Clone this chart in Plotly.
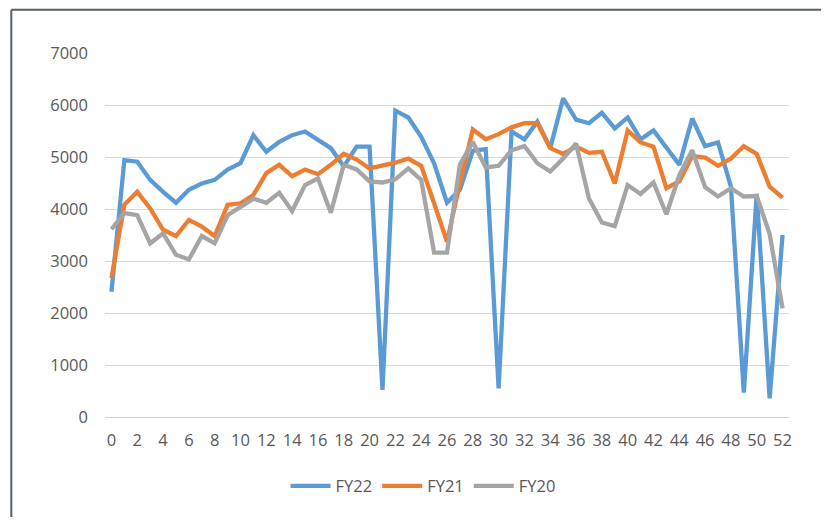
import plotly.graph_objects as go

# Week index 0..52
weeks = list(range(53))

fy22 = [2410, 4940, 4910, 4560, 4330, 4120, 4370, 4490, 4560, 4760, 4880, 5420, 5100,
        5290, 5420, 5490, 5330, 5170, 4820, 5200, 5200, 520, 5890, 5760, 5390, 4880,
        4120, 4370, 5120, 5150, 550, 5490, 5340, 5680, 5170, 6130, 5720, 5650, 5850,
        5550, 5760, 5340, 5510, 5170, 4850, 5740, 5210, 5280, 4430, 470, 4290, 360, 3500]

fy21 = [2670, 4080, 4330, 4010, 3600, 3480, 3790, 3660, 3480, 4080, 4110, 4270, 4690,
        4850, 4630, 4760, 4670, 4850, 5060, 4950, 4780, 4830, 4890, 4970, 4830, 4110,
        3370, 4500, 5530, 5340, 5440, 5570, 5650, 5650, 5170, 5060, 5200, 5080, 5100,
        4490, 5510, 5280, 5200, 4400, 4530, 5020, 4990, 4830, 4970, 5210, 5060, 4430, 4220]

fy20 = [3610, 3920, 3880, 3340, 3530, 3120, 3030, 3480, 3340, 3880, 4040, 4200, 4120,
        4310, 3960, 4460, 4590, 3930, 4850, 4760, 4530, 4510, 4570, 4780, 4560, 3160,
        3160, 4850, 5290, 4800, 4830, 5130, 5210, 4880, 4720, 4970, 5260, 4200, 3740,
        3670, 4460, 4290, 4510, 3900, 4650, 5130, 4420, 4240, 4400, 4240, 4250, 3520, 2090]

series = [("FY22", fy22, "#5B9BD5"), ("FY21", fy21, "#ED7D31"), ("FY20", fy20, "#A5A5A5")]

TEXT = "#595959"
FONT = "Open Sans, Liberation Sans, sans-serif"
FRAME = dict(color="#55616a", width=2)

fig = go.Figure()
for name, vals, color in series:
    fig.add_trace(go.Scatter(
        x=weeks, y=vals, name=name, mode="lines",
        line=dict(color=color, width=4.3),
    ))

# outer frame of the pasted chart: only top and left edges are visible
fig.add_shape(type="line", xref="paper", yref="paper",
              x0=-0.137, x1=1.2, y0=1.119, y1=1.119, line=FRAME)
fig.add_shape(type="line", xref="paper", yref="paper",
              x0=-0.137, x1=-0.137, y0=-0.6, y1=1.119, line=FRAME)

# page body adds an 8px margin all round, so the figure is sized to avoid scrollbars
fig.update_layout(
    width=813, height=509,
    margin=dict(l=97, r=32, t=45, b=100),
    plot_bgcolor="white", paper_bgcolor="white",
    font=dict(family=FONT, size=16.5, color=TEXT),
    showlegend=True,
    legend=dict(orientation="h", x=0.465, xanchor="center", y=-0.19, yanchor="middle",
                font=dict(size=16.5, color=TEXT), itemwidth=40, traceorder="normal"),
    xaxis=dict(range=[-0.5, 52.5], tickmode="array", tickvals=weeks[::2],
               showgrid=False, zeroline=False, showline=True, linecolor="#D0D0D0",
               linewidth=1, ticks="", ticklabelstandoff=8,
               tickfont=dict(size=16.5, color=TEXT)),
    yaxis=dict(range=[0, 7000], dtick=1000, showgrid=True, gridcolor="#D9D9D9",
               gridwidth=1, zeroline=False, showline=False, ticks="",
               ticklabelstandoff=16, tickfont=dict(size=16.5, color=TEXT)),
)

fig.write_html("out.html")
